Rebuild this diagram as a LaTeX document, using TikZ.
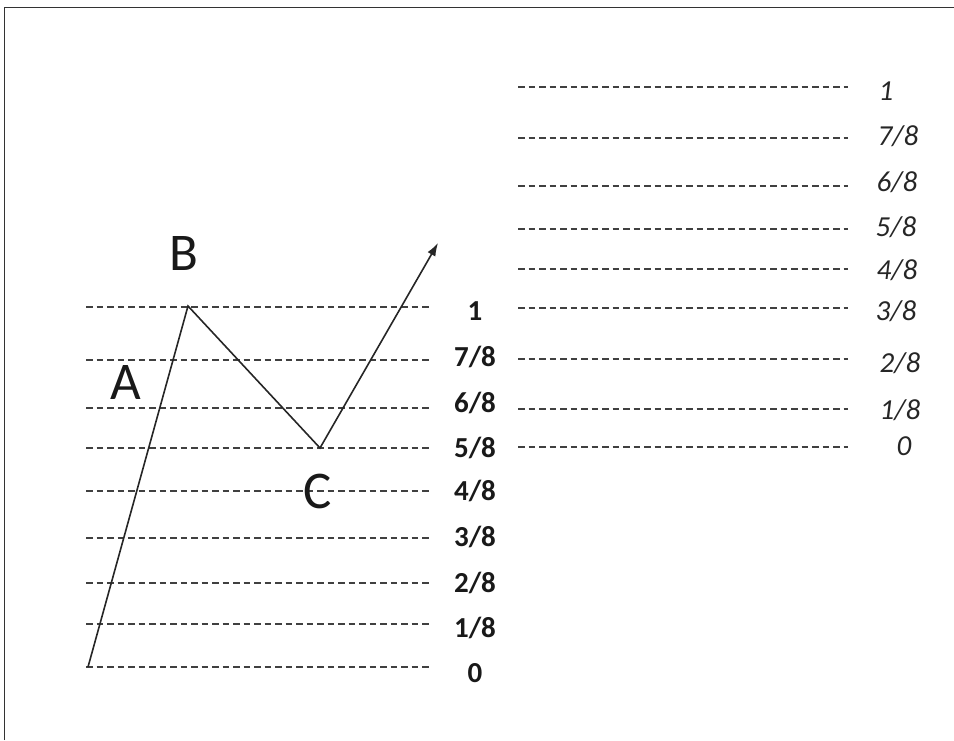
\documentclass[tikz,border=0pt]{standalone}
\usepackage{fontspec}
\setmainfont{Carlito}
\usetikzlibrary{arrows.meta}
\begin{document}
\begin{tikzpicture}[x=1pt,y=-1pt,
  gridline/.style={draw=black!75, line width=1.6pt, dash pattern=on 6.5pt off 4pt},
  wave/.style={draw=black!85, line width=1.6pt},
  leftlab/.style={anchor=base, inner sep=0pt, font=\fontsize{29}{32}\selectfont\bfseries, text=black!90},
  rightlab/.style={anchor=base, inner sep=0pt, font=\fontsize{29}{32}\selectfont\itshape, text=black!85},
  pointlab/.style={anchor=base, inner sep=0pt, font=\fontsize{53}{56}\selectfont, text=black!90},
  framing/.style={draw=black!80, line width=1.5pt}]
\useasboundingbox (0,0) rectangle (954,740);
% frame (top and left edges)
\coordinate (fbl) at (4.5,740);
\coordinate (ftl) at (4.5,7.5);
\coordinate (ftr) at (954,7.5);
\draw[framing] (fbl) -- (ftl) -- (ftr);
% left levels
\foreach \n/\y/\ly/\t in {a/307/311/{1}, b/360/357/{7/8}, c/408/403/{6/8}, d/448/448/{5/8}, e/491/491/{4/8}, f/538/537/{3/8}, g/583/583/{2/8}, h/624/628/{1/8}, i/667/673/{0}} {
  \coordinate (L\n s) at (86,\y);
  \coordinate (L\n e) at (430,\y);
  \draw[gridline] (L\n s) -- (L\n e);
  \node[leftlab] (LT\n) at (475,\ly+9.5) {\t};
}
% right levels
\foreach \n/\y/\lx/\ly/\t in {a/87/886/91/{1}, b/138/898/136/{7/8}, c/186/897/182/{6/8}, d/229/896/227/{5/8}, e/269/897/270/{4/8}, f/308/896/311/{3/8}, g/359/900/363/{2/8}, h/409/900/410/{1/8}, i/447/904/446/{0}} {
  \coordinate (R\n s) at (518,\y);
  \coordinate (R\n e) at (848,\y);
  \draw[gridline] (R\n s) -- (R\n e);
  \node[rightlab] (RT\n) at (\lx,\ly+9.5) {\t};
}
% wave
\coordinate (pA) at (88,667);
\coordinate (pB) at (188,306);
\coordinate (pC) at (320,448);
\coordinate (pD) at (438,243);
\draw[wave, -{Latex[length=13pt,width=9pt]}] (pA) -- (pB) -- (pC) -- (pD);
% point labels
\node[pointlab] (labB) at (184,253+17) {B};
\node[pointlab] (labA) at (126,382+17) {A};
\node[pointlab] (labC) at (318,491+17) {C};
\end{tikzpicture}
\end{document}
